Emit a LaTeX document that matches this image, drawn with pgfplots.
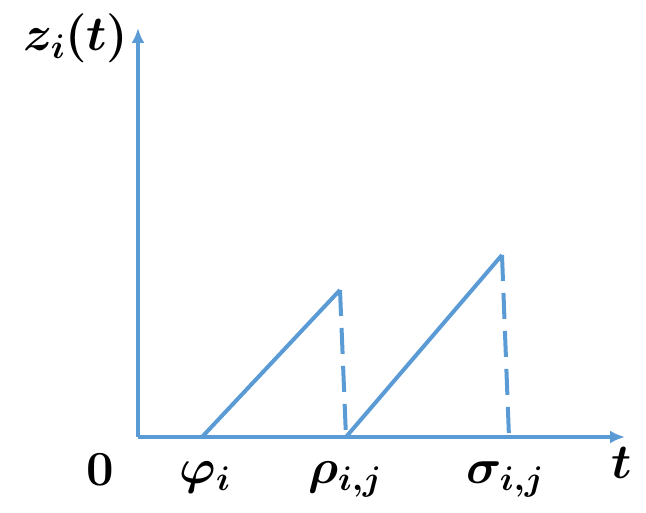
\RequirePackage{fix-cm}
\documentclass[border=0pt]{standalone}
\usepackage{amsmath}
\usepackage{bm}
\usepackage{pgfplots}
\pgfplotsset{compat=1.18}
\usetikzlibrary{arrows.meta}
\definecolor{lineblue}{HTML}{5B9BD5}
\newcommand{\labfont}{\fontsize{49}{54}\selectfont}

\begin{document}
\begin{tikzpicture}
\useasboundingbox (-138pt,-75pt) rectangle (508pt,437pt);
\begin{axis}[x=1pt,y=1pt,xmin=0,xmax=487,ymin=0,ymax=409,
  axis lines=left,axis line style={lineblue,line width=3.4pt},
  x axis line style={-{Latex[length=15pt,width=13pt]}},
  y axis line style={-{Latex[length=15pt,width=13pt]}},
  xtick=\empty,ytick=\empty,clip=false]
\addplot[lineblue,line width=4pt] coordinates {(64,0) (202,147)};
\addplot[lineblue,line width=4pt,dash pattern=on 26pt off 12pt] coordinates {(202,147) (208,0)};
\addplot[lineblue,line width=4pt] coordinates {(208,0) (364,182)};
\addplot[lineblue,line width=4pt,dash pattern=on 26pt off 12pt] coordinates {(364,182) (371,0)};
\node[anchor=base,font=\labfont] at (axis cs:-38,-48) {$\mathbf{0}$};
\node[anchor=base,font=\labfont] at (axis cs:67,-46) {$\bm{\varphi_i}$};
\node[anchor=base,font=\labfont] at (axis cs:207,-46) {$\bm{\rho_{i,j}}$};
\node[anchor=base,font=\labfont] at (axis cs:367,-46) {$\bm{\sigma_{i,j}}$};
\node[anchor=base,font=\labfont] at (axis cs:484,-41) {$\bm{t}$};
\node[anchor=base,font=\labfont] at (axis cs:-62,386) {$\bm{z_i(t)}$};
\end{axis}
\end{tikzpicture}
\end{document}
